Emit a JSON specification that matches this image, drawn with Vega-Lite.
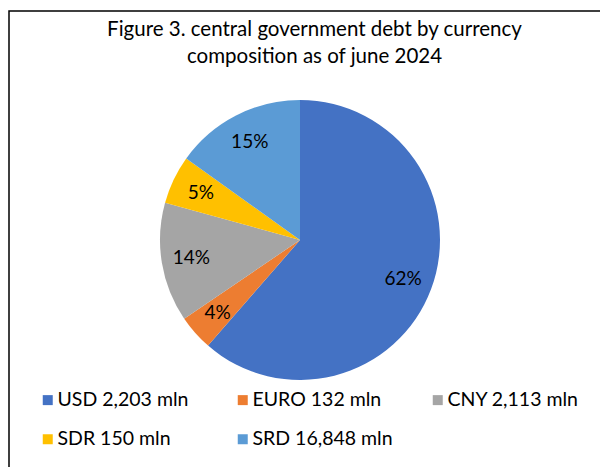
{
  "$schema": "https://vega.github.io/schema/vega-lite/v6.json",
  "width": 611,
  "height": 458,
  "autosize": "none",
  "padding": {"left": 9, "top": 11, "right": -20, "bottom": -2},
  "background": "white",
  "config": {
    "view": {"stroke": null},
    "font": "Lato"
  },
  "title": {
    "text": ["Figure 3. central government debt by currency", "composition as of june 2024"],
    "anchor": "middle",
    "frame": "group",
    "orient": "top",
    "offset": -57,
    "fontSize": 20.5,
    "fontWeight": "normal",
    "font": "Lato",
    "color": "black",
    "lineHeight": 26.5
  },
  "layer": [
    {
      "data": {"values": [{"frame": "border"}]},
      "mark": {"type": "rect", "filled": false, "stroke": "black", "strokeWidth": 1.5},
      "encoding": {}
    },
    {
      "data": {"name": "debt", "values": [
        {"cur": "USD", "label": "USD 2,203 mln", "value": 61.4, "pct": "62%", "order": 1},
        {"cur": "EURO", "label": "EURO 132 mln", "value": 4.1, "pct": "4%", "order": 2},
        {"cur": "CNY", "label": "CNY 2,113 mln", "value": 13.8, "pct": "14%", "order": 3},
        {"cur": "SDR", "label": "SDR 150 mln", "value": 5.6, "pct": "5%", "order": 4},
        {"cur": "SRD", "label": "SRD 16,848 mln", "value": 15.1, "pct": "15%", "order": 5}
      ]},
      "encoding": {
        "theta": {"field": "value", "type": "quantitative", "stack": true},
        "order": {"field": "order", "type": "quantitative"}
      },
      "layer": [
        {
          "mark": {"type": "arc", "outerRadius": 140, "x": {"expr": "width/2 - 14.5"}},
          "encoding": {
            "color": {
              "field": "label",
              "type": "nominal",
              "scale": {
                "domain": ["USD 2,203 mln", "EURO 132 mln", "CNY 2,113 mln", "SDR 150 mln", "SRD 16,848 mln"],
                "range": ["#4472C4", "#ED7D31", "#A5A5A5", "#FFC000", "#5B9BD5"]
              },
              "legend": {
                "title": null,
                "orient": "none",
                "legendX": 29,
                "legendY": 379,
                "direction": "horizontal",
                "columns": 3,
                "gridAlign": "all",
                "columnPadding": 35,
                "rowPadding": 18.5,
                "symbolType": "square",
                "symbolSize": 100,
                "symbolStrokeWidth": 0,
                "labelFontSize": 19.5,
                "labelFont": "Lato",
                "labelColor": "black",
                "labelOffset": 0,
                "labelLimit": 300
              }
            }
          }
        },
        {
          "mark": {"type": "text", "radius": 110, "fontSize": 19, "font": "Lato", "color": "black", "x": {"expr": "width/2 - 14.5"}},
          "encoding": {
            "text": {"field": "pct"}
          }
        }
      ]
    }
  ]
}
